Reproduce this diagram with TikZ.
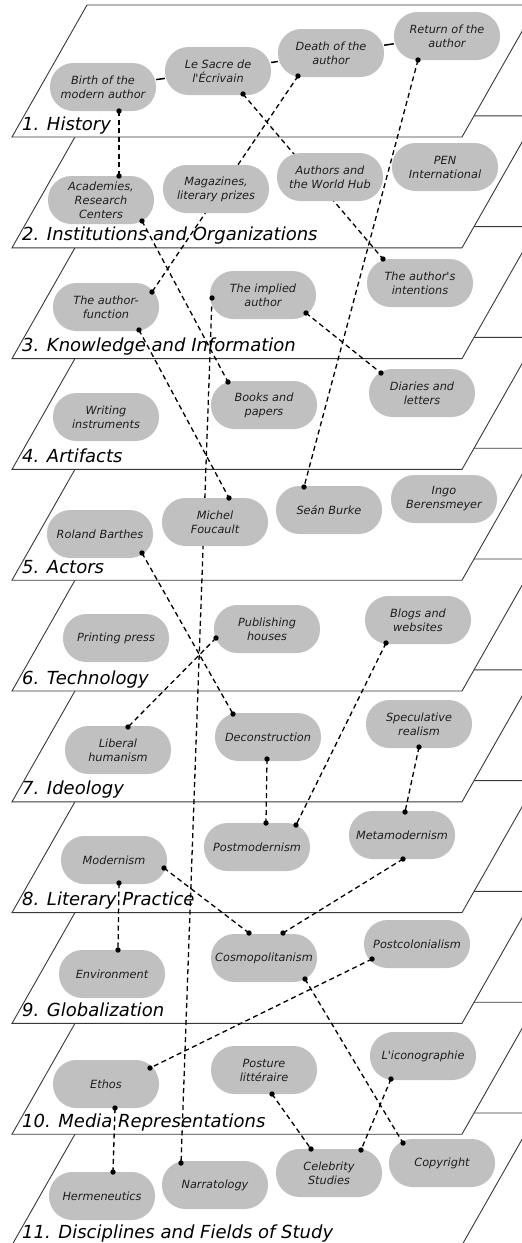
\documentclass[tikz,border=0pt]{standalone}
\usepackage{fontspec}
\setmainfont{DejaVu Sans}[Ligatures=TeXOff, ItalicFont={DejaVu Sans Oblique}]
\usetikzlibrary{calc}
\pgfdeclarelayer{bg}\pgfdeclarelayer{mid}\pgfdeclarelayer{fg}
\pgfsetlayers{bg,mid,main,fg}
\definecolor{nodegray}{HTML}{C0C0C0}
\definecolor{txt}{HTML}{1E1E1E}
\tikzset{
 topic/.style={fill=nodegray, rounded corners=23.5pt, minimum width=106pt, minimum height=48pt,
   inner sep=1pt, align=center, text=txt, font=\fontsize{11.3}{14}\selectfont\itshape},
 plane/.style={fill=white, draw=black!78, line width=0.9pt},
 lab/.style={anchor=base west, inner sep=0pt, text=black, font=\fontsize{18}{20}\selectfont\itshape},
 conn/.style={line width=1.3pt, dash pattern=on 5pt off 3.5pt, black},
 solidconn/.style={line width=1.5pt, black},
 dotc/.style={fill=black}
}
\newcommand\lnk[2]{%
 \begin{pgfonlayer}{mid}\draw[conn] #1 -- #2;\end{pgfonlayer}%
 \begin{pgfonlayer}{fg}\fill[dotc] #1 circle (2.7); \fill[dotc] #2 circle (2.7);\end{pgfonlayer}}
\begin{document}
\begin{tikzpicture}[x=1pt,y=-1pt]
\useasboundingbox (0,0) rectangle (522,1243);
% planes, lowest first
\begin{pgfonlayer}{bg}
\foreach \i in {10,9,...,0}{
  \pgfmathsetmacro\yb{137+\i*110.8}
  \draw[plane] (12,\yb) -- (462,\yb) -- (537,\yb-132) -- (87,\yb-132) -- cycle;
}
\end{pgfonlayer}
% plane labels
\node[lab] (l1) at (22,130) {1. History};
\node[lab] (l2) at (22,240.8) {2. Institutions and Organizations};
\node[lab] (l3) at (22,351.6) {3. Knowledge and Information};
\node[lab] (l4) at (22,462.4) {4. Artifacts};
\node[lab] (l5) at (22,573.2) {5. Actors};
\node[lab] (l6) at (22,684) {6. Technology};
\node[lab] (l7) at (22,794.8) {7. Ideology};
\node[lab] (l8) at (22,905.6) {8. Literary Practice};
\node[lab] (l9) at (22,1016.4) {9. Globalization};
\node[lab] (l10) at (22,1127.2) {10. Media Representations};
\node[lab] (l11) at (22,1238) {11. Disciplines and Fields of Study};
% nodes
\node[topic] (birth) at (103,87) {Birth of the\\modern author};
\node[topic] (sacre) at (218,71) {Le Sacre de\\l'Écrivain};
\node[topic] (death) at (331,53) {Death of the\\author};
\node[topic] (ret) at (447,36) {Return of the\\author};
\node[topic] (acad) at (101,200) {Academies,\\Research\\Centers};
\node[topic] (mag) at (216,189) {Magazines,\\literary prizes};
\node[topic] (hub) at (330,177) {Authors and\\the World Hub};
\node[topic] (pen) at (445,167) {PEN\\International};
\node[topic] (afunc) at (106,307) {The author-\\function};
\node[topic] (implied) at (263,295) {The implied\\author};
\node[topic] (intent) at (420,283) {The author's\\intentions};
\node[topic] (writing) at (106,417) {Writing\\instruments};
\node[topic] (books) at (264,405) {Books and\\papers};
\node[topic] (diaries) at (422,393) {Diaries and\\letters};
\node[topic] (barthes) at (100,534) {Roland Barthes};
\node[topic] (foucault) at (215,522) {Michel\\Foucault};
\node[topic] (burke) at (329,510) {Seán Burke};
\node[topic] (ingo) at (444,499) {Ingo\\Berensmeyer};
\node[topic] (printing) at (116,638) {Printing press};
\node[topic] (publishing) at (267,629) {Publishing\\houses};
\node[topic] (blogs) at (418,620) {Blogs and\\websites};
\node[topic] (liberal) at (118,750) {Liberal\\humanism};
\node[topic] (decon) at (268,737) {Deconstruction};
\node[topic] (spec) at (419,724) {Speculative\\realism};
\node[topic] (modern) at (114,860) {Modernism};
\node[topic] (postmod) at (257,847) {Postmodernism};
\node[topic] (metamod) at (402,835) {Metamodernism};
\node[topic] (environ) at (112,974) {Environment};
\node[topic] (cosmo) at (264,958) {Cosmopolitanism};
\node[topic] (postcol) at (417,944) {Postcolonialism};
\node[topic] (ethos) at (106,1084) {Ethos};
\node[topic] (posture) at (264,1070) {Posture\\littéraire};
\node[topic] (icono) at (423,1056) {L'iconographie};
\node[topic] (herm) at (102,1196) {Hermeneutics};
\node[topic] (narr) at (215,1185) {Narratology};
\node[topic] (celeb) at (329,1173) {Celebrity\\Studies};
\node[topic] (copy) at (442,1163) {Copyright};
% solid history chain
\begin{pgfonlayer}{mid}
\draw[solidconn] (birth) -- (sacre) -- (death) -- (ret);
\end{pgfonlayer}
% dashed links
\lnk{($(birth)+(16,24)$)}{($(acad)+(18,-24)$)}
\lnk{($(sacre)+(25,23)$)}{($(intent)+(-37,-24)$)}
\lnk{($(death)+(-33,23)$)}{($(afunc)+(46,-15)$)}
\lnk{($(ret)+(-29,24)$)}{($(burke)+(-25,-23)$)}
\lnk{($(acad)+(41,21)$)}{($(books)+(-36,-23)$)}
\lnk{($(implied)+(-51,3)$)}{($(narr)+(-34,-22)$)}
\lnk{($(implied)+(43,18)$)}{($(diaries)+(-41,-20)$)}
\lnk{($(afunc)+(33,23)$)}{($(foucault)+(14,-24)$)}
\lnk{($(barthes)+(42,19)$)}{($(decon)+(-35,-23)$)}
\lnk{($(publishing)+(-51,9)$)}{($(liberal)+(10,-23)$)}
\lnk{($(blogs)+(-32,23)$)}{($(postmod)+(39,-22)$)}
\lnk{($(decon)+(-1,22)$)}{($(postmod)+(9,-24)$)}
\lnk{($(spec)+(0,23)$)}{($(metamod)+(3,-23)$)}
\lnk{($(modern)+(5,23)$)}{($(environ)+(6,-24)$)}
\lnk{($(modern)+(50,8)$)}{($(cosmo)+(-15,-25)$)}
\lnk{($(metamod)+(1,24)$)}{($(cosmo)+(19,-25)$)}
\lnk{($(postcol)+(-45,15)$)}{($(ethos)+(44,-16)$)}
\lnk{($(cosmo)+(41,21)$)}{($(copy)+(-39,-20)$)}
\lnk{($(posture)+(8,24)$)}{($(celeb)+(-18,-24)$)}
\lnk{($(icono)+(-32,23)$)}{($(celeb)+(32,-23)$)}
\lnk{($(ethos)+(9,24)$)}{($(herm)+(11,-24)$)}
\end{tikzpicture}
\end{document}
